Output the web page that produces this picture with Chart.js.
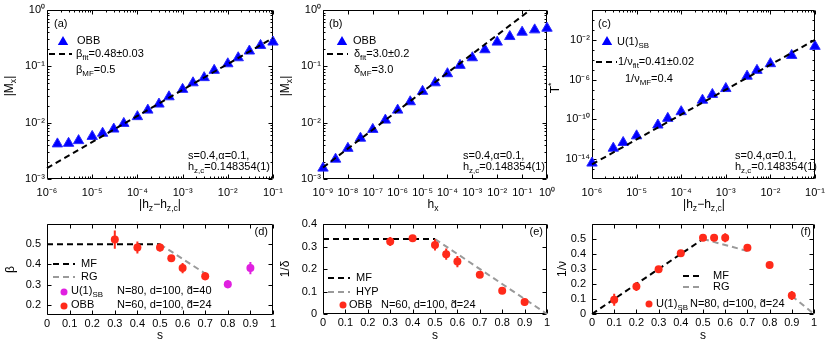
<!DOCTYPE html>
<html><head><meta charset="utf-8">
<script src="https://cdn.jsdelivr.net/npm/chart.js@4.4.1/dist/chart.umd.min.js"></script>
<style>
html,body{margin:0;padding:0;background:#fff;}
#wrap{position:relative;width:830px;height:350px;overflow:hidden;background:#fff;}
#wrap canvas{position:absolute;left:0;top:0;}
</style></head><body>
<div id="wrap">
<canvas id="ca" width="830" height="350"></canvas>
<canvas id="cb" width="830" height="350"></canvas>
<canvas id="cc" width="830" height="350"></canvas>
<canvas id="cd" width="830" height="350"></canvas>
<canvas id="ce" width="830" height="350"></canvas>
<canvas id="cf" width="830" height="350"></canvas>
</div>
<script>
// ---------------- DATA ----------------
// (a) |Mx| vs |hz-hz,c|
const aX = [1.7e-6,3e-6,5e-6,1e-5,1.7e-5,3e-5,5e-5,1e-4,1.7e-4,3e-4,5e-4,1e-3,1.7e-3,3e-3,5e-3,1e-2,1.7e-2,3e-2,5.3e-2,1e-1];
const aY = [4.2e-3,4.3e-3,4.8e-3,5.7e-3,6.5e-3,7.7e-3,9.7e-3,1.28e-2,1.67e-2,2.14e-2,2.88e-2,3.9e-2,5.1e-2,6.3e-2,8.5e-2,0.111,0.142,0.187,0.235,0.27];
const aFitX = [1e-6, 1e-1];
const aFitY = [1.56e-3, 0.32];
const aXTicks = [1e-6,1e-5,1e-4,1e-3,1e-2,1e-1];
const aXLabels = ['10⁻⁶','10⁻⁵','10⁻⁴','10⁻³','10⁻²','10⁻¹'];
const aYTicks = [1e-3,1e-2,1e-1,1];
const aYLabels = ['10⁻³','10⁻²','10⁻¹','10⁰'];

// (b) |Mx| vs hx
const bX = [1e-9,3.2e-9,1e-8,3.2e-8,1e-7,3.2e-7,1e-6,3.2e-6,1e-5,3.2e-5,1e-4,3.2e-4,1e-3,3.2e-3,1e-2,3.2e-2,1e-1,3.2e-1,1];
const bY = [1.56e-3,2.25e-3,3.5e-3,5.3e-3,7.6e-3,1.11e-2,1.67e-2,2.35e-2,3.6e-2,5.1e-2,7.4e-2,0.104,0.142,0.197,0.269,0.338,0.404,0.444,0.475];
const bFitX = [1e-9, 0.21];
const bFitY = [1.6e-3, 1];
const bXTicks = [1e-9,1e-8,1e-7,1e-6,1e-5,1e-4,1e-3,1e-2,1e-1,1];
const bXLabels = ['10⁻⁹','10⁻⁸','10⁻⁷','10⁻⁶','10⁻⁵','10⁻⁴','10⁻³','10⁻²','10⁻¹','10⁰'];
const bYTicks = [1e-3,1e-2,1e-1,1];
const bYLabels = ['10⁻³','10⁻²','10⁻¹','10⁰'];

// (c) T* vs |hz-hz,c|
const cX = [1e-6,3e-6,5e-6,1e-5,3e-5,5e-5,1e-4,3e-4,5e-4,1e-3,3e-3,5e-3,1e-2,3e-2,1e-1];
const cY = [4e-15,1.26e-13,4.7e-13,2.2e-12,2.7e-11,1.26e-10,5.9e-10,8.5e-9,3.2e-8,1.26e-7,2.2e-6,8.5e-6,4e-5,2.7e-4,2.2e-3];
const cFitX = [1e-6, 1e-1];
const cFitY = [3e-15, 1e-2];
const cXTicks = [1e-6,1e-5,1e-4,1e-3,1e-2,1e-1];
const cXLabels = ['10⁻⁶','10⁻⁵','10⁻⁴','10⁻³','10⁻²','10⁻¹'];
const cYTicks = [1e-14,1e-10,1e-6,1e-2];
const cYLabels = ['10⁻¹⁴','10⁻¹⁰','10⁻⁶','10⁻²'];

// (d) beta vs s
const dX = [0.3,0.4,0.5,0.55,0.6,0.7];
const dY = [0.523,0.484,0.484,0.431,0.382,0.342];
const dErr = [0.045,0.03,0.02,0.01,0.025,0.02];
const dUX = [0.8,0.9];
const dUY = [0.302,0.382];
const dUErr = [0.02,0.03];
const dMfX = [0,0.5];
const dMfY = [0.5,0.5];
const dRgX = [0.5,0.7];
const dRgY = [0.5,0.355];
const dYTicks = [0.2,0.3,0.4,0.5];
const dYLabels = ['0.2','0.3','0.4','0.5'];

// (e) 1/delta vs s
const eX = [0.3,0.4,0.5,0.55,0.6,0.7,0.8,0.9];
const eY = [0.322,0.337,0.307,0.266,0.233,0.174,0.103,0.053];
const eErr = [0.02,0.008,0.025,0.025,0.025,0.01,0.01,0.015];
const eMfX = [0,0.5];
const eMfY = [1/3,1/3];
const eHypX = [0.5,1];
const eHypY = [1/3,0];
const eYTicks = [0,0.1,0.2,0.3,0.4];
const eYLabels = ['0','0.1','0.2','0.3','0.4'];

// (f) 1/nu vs s
const fX = [0.1,0.2,0.3,0.4,0.5,0.55,0.6,0.7,0.8,0.9];
const fY = [0.095,0.184,0.299,0.405,0.509,0.509,0.509,0.442,0.327,0.124];
const fErr = [0.04,0.03,0.02,0.02,0.02,0.02,0.03,0.02,0.02,0.03];
const fMfX = [0,0.5];
const fMfY = [0,0.5];
const fRgX = [0.5,0.7,0.8,0.9,1];
const fRgY = [0.5,0.42,null,0.12,0];
const fYTicks = [0,0.1,0.2,0.3,0.4,0.5];
const fYLabels = ['0','0.1','0.2','0.3','0.4','0.5'];

const sTicks = [0,0.1,0.2,0.3,0.4,0.5,0.6,0.7,0.8,0.9,1];
const sLabels = ['0','0.1','0.2','0.3','0.4','0.5','0.6','0.7','0.8','0.9','1'];

// ---------------- STYLE ----------------
const FONT = '"Liberation Sans", Arial, Helvetica, sans-serif';
Chart.defaults.font.family = FONT;
Chart.defaults.color = '#000';
const BLUE = '#0000ff', RED = '#ff2a1a', MAG = '#e020e0', GRAY = '#9a9a9a';
const DASH = [6,4];

const pts = (xs, ys) => xs.map((x, i) => ({x: x, y: ys[i]}));
const errPts = (xs, ys, es) => xs.flatMap((x, i) => [{x: x, y: ys[i] - es[i]}, {x: x, y: ys[i] + es[i]}, {x: x, y: null}]);

function richText(ctx, str, x, y, size, align, rot, color) {
  const segs = []; let buf = ''; let i = 0;
  while (i < str.length) {
    const c = str[i];
    if ((c === '_' || c === '^') && str[i + 1] === '{') {
      if (buf) { segs.push({t: buf, m: 0}); buf = ''; }
      const j = str.indexOf('}', i);
      segs.push({t: str.slice(i + 2, j), m: c === '_' ? 1 : 2});
      i = j + 1;
    } else { buf += c; i++; }
  }
  if (buf) segs.push({t: buf, m: 0});
  const ss = size * 0.72;
  const F = s => s + 'px ' + FONT;
  let w = 0;
  for (const s of segs) { ctx.font = F(s.m ? ss : size); s.w = ctx.measureText(s.t).width; w += s.w; }
  ctx.save();
  ctx.translate(x, y);
  if (rot) ctx.rotate(rot);
  let cx = align === 'center' ? -w / 2 : align === 'right' ? -w : 0;
  ctx.fillStyle = color || '#000';
  ctx.textBaseline = 'middle'; ctx.textAlign = 'left';
  for (const s of segs) {
    ctx.font = F(s.m ? ss : size);
    const dy = s.m === 1 ? size * 0.33 : s.m === 2 ? -size * 0.38 : 0;
    ctx.fillText(s.t, cx, dy);
    cx += s.w;
  }
  ctx.restore();
}

function logMinors(min, max, decadeOnly) {
  const out = [];
  const d0 = Math.floor(Math.log10(min)), d1 = Math.ceil(Math.log10(max));
  for (let d = d0; d <= d1; d++) {
    if (decadeOnly) { const v = Math.pow(10, d); if (v > min && v < max) out.push(v); }
    else for (let k = 2; k <= 9; k++) { const v = k * Math.pow(10, d); if (v > min && v < max) out.push(v); }
  }
  return out;
}

const framePlugin = {
  id: 'frame',
  beforeDatasetsDraw(chart, args, o) {
    const {ctx, chartArea: a, scales: {x, y}} = chart;
    const L = Math.round(a.left) + 0.5, R = Math.round(a.right) - 0.5, T = Math.round(a.top) + 0.5, B = Math.round(a.bottom) - 0.5;
    ctx.save();
    ctx.strokeStyle = '#000'; ctx.lineWidth = 1; ctx.setLineDash([]);
    ctx.beginPath();
    ctx.rect(L, T, R - L, B - T);
    const xt = (v, len) => { const p = Math.round(x.getPixelForValue(v)) + 0.5; ctx.moveTo(p, B); ctx.lineTo(p, B - len); ctx.moveTo(p, T); ctx.lineTo(p, T + len); };
    const yt = (v, len) => { const p = Math.round(y.getPixelForValue(v)) + 0.5; ctx.moveTo(L, p); ctx.lineTo(L + len, p); ctx.moveTo(R, p); ctx.lineTo(R - len, p); };
    x.ticks.forEach(t => xt(t.value, 4));
    y.ticks.forEach(t => yt(t.value, 4));
    if (o.xMinor) logMinors(x.min, x.max, o.xMinor === 'decade').forEach(v => xt(v, 2));
    if (o.yMinor) logMinors(y.min, y.max, o.yMinor === 'decade').forEach(v => yt(v, 2));
    ctx.stroke();
    ctx.restore();
  },
  afterDraw(chart, args, o) {
    const ctx = chart.ctx;
    (o.items || []).forEach(it => {
      ctx.save();
      if (it.type === 'tri') {
        const r = 6;
        ctx.beginPath();
        ctx.moveTo(it.x, it.y - r);
        ctx.lineTo(it.x + r * Math.sin(2 * Math.PI / 3), it.y - r * Math.cos(2 * Math.PI / 3));
        ctx.lineTo(it.x + r * Math.sin(4 * Math.PI / 3), it.y - r * Math.cos(4 * Math.PI / 3));
        ctx.closePath();
        ctx.fillStyle = BLUE; ctx.fill();
      } else if (it.type === 'dot') {
        ctx.beginPath(); ctx.arc(it.x, it.y, 3.5, 0, 2 * Math.PI);
        ctx.fillStyle = it.color; ctx.fill();
      } else if (it.type === 'dash') {
        ctx.beginPath(); ctx.setLineDash(DASH); ctx.lineWidth = 2; ctx.strokeStyle = it.color;
        ctx.moveTo(it.x1, it.y); ctx.lineTo(it.x2, it.y); ctx.stroke();
      }
      ctx.restore();
    });
    (o.texts || []).forEach(t => richText(ctx, t.t, t.x, t.y, t.s || 11, t.a || 'left', t.r || 0, t.c));
  }
};

function build(id, p) {
  const H = p.H, W = p.W;
  return new Chart(document.getElementById(id), {
    type: 'scatter',
    data: {datasets: p.datasets},
    options: {
      responsive: false, animation: false, events: [], devicePixelRatio: 1,
      layout: {padding: {left: p.area.l - W, right: 830 - p.area.r, top: p.area.t, bottom: 350 - p.area.b - H}},
      plugins: {legend: {display: false}, tooltip: {enabled: false}, frame: p.frame},
      scales: {
        x: {
          type: p.xType, min: p.xMin, max: p.xMax, position: 'bottom',
          grid: {display: false, drawTicks: false}, border: {display: false},
          ticks: {autoSkip: false, maxRotation: 0, minRotation: 0, padding: p.xPad, font: {size: 11}, color: '#000',
                  callback: (v, i) => p.xLabels[i]},
          afterBuildTicks: s => { s.ticks = p.xTicks.map(v => ({value: v})); },
          afterFit: s => { s.height = H; s.paddingLeft = 0; s.paddingRight = 0; },
          title: p.xTitle ? {display: true, text: p.xTitle, font: {size: 12}, color: '#000', padding: {top: 0, bottom: p.xTitlePad}} : {display: false}
        },
        y: {
          type: p.yType, min: p.yMin, max: p.yMax, position: 'left',
          grid: {display: false, drawTicks: false}, border: {display: false},
          ticks: {autoSkip: false, padding: p.yPad, font: {size: 11}, color: '#000',
                  callback: (v, i) => p.yLabels[i]},
          afterBuildTicks: s => { s.ticks = p.yTicks.map(v => ({value: v})); },
          afterFit: s => { s.width = W; s.paddingTop = 0; s.paddingBottom = 0; },
          title: p.yTitle ? {display: true, text: p.yTitle, font: {size: 12}, color: '#000', padding: {top: p.yTitlePad, bottom: 0}} : {display: false}
        }
      }
    },
    plugins: [framePlugin]
  });
}

const fitLine = (xs, ys) => ({data: pts(xs, ys), showLine: true, borderColor: '#000', borderWidth: 2, borderDash: DASH, pointRadius: 0, fill: false, clip: false});
const triSet = (xs, ys) => ({data: pts(xs, ys), showLine: false, pointStyle: 'triangle', pointRadius: 6, backgroundColor: BLUE, borderColor: '#2a2aff', borderWidth: 1, clip: false});
const dotSet = (xs, ys, col) => ({data: pts(xs, ys), showLine: false, pointStyle: 'circle', pointRadius: 4, backgroundColor: col, borderColor: col, borderWidth: 0, clip: false});
const errSet = (xs, ys, es, col) => ({data: errPts(xs, ys, es), showLine: true, spanGaps: false, borderColor: col, borderWidth: 2, pointRadius: 0, fill: false, clip: false});
const dashSet = (xs, ys, col) => ({data: pts(xs, ys), showLine: true, spanGaps: false, borderColor: col, borderWidth: 2, borderDash: DASH, pointRadius: 0, fill: false, clip: false});

const hzTitle = '|h_{z}−h_{z,c}|';

// (a)
build('ca', {
  area: {l: 47, r: 273, t: 10, b: 179}, W: 40, H: 36, xPad: 7, yPad: 2,
  xType: 'logarithmic', xMin: 1e-6, xMax: 1e-1, xTicks: aXTicks, xLabels: aXLabels,
  yType: 'logarithmic', yMin: 1e-3, yMax: 1, yTicks: aYTicks, yLabels: aYLabels,
  datasets: [fitLine(aFitX, aFitY), triSet(aX, aY)],
  frame: {xMinor: true, yMinor: true,
    items: [{type: 'tri', x: 63, y: 42}, {type: 'dash', x1: 49, x2: 72, y: 54, color: '#000'}],
    texts: [
      {t: '(a)', x: 54, y: 24},
      {t: 'OBB', x: 77, y: 41},
      {t: 'β_{fit}=0.48±0.03', x: 76, y: 54},
      {t: 'β_{MF}=0.5', x: 76, y: 70},
      {t: 's=0.4,α=0.1,', x: 188, y: 156},
      {t: 'h_{z,c}=0.148354(1)', x: 188, y: 167},
      {t: hzTitle, x: 160, y: 205, s: 12, a: 'center'},
      {t: '|M_{x}|', x: 10, y: 86, s: 12, a: 'center', r: -Math.PI / 2}
    ]}
});

// (b)
build('cb', {
  area: {l: 323, r: 547, t: 10, b: 179}, W: 40, H: 36, xPad: 7, yPad: 2,
  xType: 'logarithmic', xMin: 1e-9, xMax: 1, xTicks: bXTicks, xLabels: bXLabels,
  yType: 'logarithmic', yMin: 1e-3, yMax: 1, yTicks: bYTicks, yLabels: bYLabels,
  datasets: [fitLine(bFitX, bFitY), triSet(bX, bY)],
  frame: {xMinor: false, yMinor: true,
    items: [{type: 'tri', x: 342, y: 42}, {type: 'dash', x1: 327, x2: 348, y: 54, color: '#000'}],
    texts: [
      {t: '(b)', x: 329, y: 24},
      {t: 'OBB', x: 353, y: 41},
      {t: 'δ_{fit}=3.0±0.2', x: 354, y: 54},
      {t: 'δ_{MF}=3.0', x: 354, y: 70},
      {t: 's=0.4,α=0.1,', x: 463, y: 156},
      {t: 'h_{z,c}=0.148354(1)', x: 463, y: 167},
      {t: 'h_{x}', x: 433, y: 205, s: 12, a: 'center'},
      {t: '|M_{x}|', x: 286, y: 86, s: 12, a: 'center', r: -Math.PI / 2}
    ]}
});

// (c)
build('cc', {
  area: {l: 592, r: 815, t: 10, b: 179}, W: 40, H: 36, xPad: 7, yPad: 2,
  xType: 'logarithmic', xMin: 1e-6, xMax: 1e-1, xTicks: cXTicks, xLabels: cXLabels,
  yType: 'logarithmic', yMin: 1e-16, yMax: 10, yTicks: cYTicks, yLabels: cYLabels,
  datasets: [fitLine(cFitX, cFitY), triSet(cX, cY)],
  frame: {xMinor: true, yMinor: 'decade',
    items: [{type: 'tri', x: 607, y: 42}, {type: 'dash', x1: 596, x2: 617, y: 62, color: '#000'}],
    texts: [
      {t: '(c)', x: 598, y: 24},
      {t: 'U(1)_{SB}', x: 617, y: 42},
      {t: '1/ν_{fit}=0.41±0.02', x: 618, y: 62},
      {t: '1/ν_{MF}=0.4', x: 625, y: 79},
      {t: 's=0.4,α=0.1,', x: 735, y: 156},
      {t: 'h_{z,c}=0.148354(1)', x: 735, y: 167},
      {t: hzTitle, x: 704, y: 205, s: 12, a: 'center'},
      {t: 'T^{*}', x: 556, y: 88, s: 12, a: 'center', r: -Math.PI / 2}
    ]}
});

// (d)
build('cd', {
  area: {l: 47, r: 273, t: 224, b: 315}, W: 47, H: 35, xPad: 2, yPad: 6,
  xType: 'linear', xMin: 0, xMax: 1, xTicks: sTicks, xLabels: sLabels,
  yType: 'linear', yMin: 0.15, yMax: 0.6, yTicks: dYTicks, yLabels: dYLabels,
  xTitle: 's', xTitlePad: 6.8, yTitle: 'β', yTitlePad: 3.3,
  datasets: [dotSet(dX, dY, RED), errSet(dX, dY, dErr, RED), dotSet(dUX, dUY, MAG), errSet(dUX, dUY, dUErr, MAG),
             dashSet(dMfX, dMfY, '#000'), dashSet(dRgX, dRgY, GRAY)],
  frame: {
    items: [{type: 'dash', x1: 53, x2: 75, y: 264, color: '#000'}, {type: 'dash', x1: 53, x2: 75, y: 277, color: GRAY},
            {type: 'dot', x: 64, y: 292, color: MAG}, {type: 'dot', x: 64, y: 306, color: RED}],
    texts: [
      {t: '(d)', x: 268, y: 232, a: 'right'},
      {t: 'MF', x: 81, y: 264},
      {t: 'RG', x: 81, y: 277},
      {t: 'U(1)_{SB}', x: 71, y: 291},
      {t: 'N=80, d=100, d\u0303=40', x: 117, y: 291},
      {t: 'OBB', x: 71, y: 305},
      {t: 'N=60, d=100, d\u0303=24', x: 117, y: 305}
    ]}
});

// (e)
build('ce', {
  area: {l: 323, r: 547, t: 224, b: 314}, W: 45, H: 36, xPad: 2, yPad: 6,
  xType: 'linear', xMin: 0, xMax: 1, xTicks: sTicks, xLabels: sLabels,
  yType: 'linear', yMin: 0, yMax: 0.4, yTicks: eYTicks, yLabels: eYLabels,
  xTitle: 's', xTitlePad: 6.8, yTitle: '1/δ', yTitlePad: 0,
  datasets: [dotSet(eX, eY, RED), errSet(eX, eY, eErr, RED), dashSet(eMfX, eMfY, '#000'), dashSet(eHypX, eHypY, GRAY)],
  frame: {
    items: [{type: 'dash', x1: 328, x2: 350, y: 278, color: '#000'}, {type: 'dash', x1: 328, x2: 350, y: 292, color: GRAY},
            {type: 'dot', x: 343, y: 305, color: RED}],
    texts: [
      {t: '(e)', x: 543, y: 232, a: 'right'},
      {t: 'MF', x: 356, y: 278},
      {t: 'HYP', x: 356, y: 292},
      {t: 'OBB', x: 349, y: 305},
      {t: 'N=60, d=100, d\u0303=24', x: 381, y: 305}
    ]}
});

// (f)
build('cf', {
  area: {l: 592, r: 814, t: 224, b: 314}, W: 45, H: 36, xPad: 2, yPad: 6,
  xType: 'linear', xMin: 0, xMax: 1, xTicks: sTicks, xLabels: sLabels,
  yType: 'linear', yMin: 0, yMax: 0.6, yTicks: fYTicks, yLabels: fYLabels,
  xTitle: 's', xTitlePad: 6.8, yTitle: '1/ν', yTitlePad: 8.8,
  datasets: [dotSet(fX, fY, RED), errSet(fX, fY, fErr, RED), dashSet(fMfX, fMfY, '#000'), dashSet(fRgX, fRgY, GRAY)],
  frame: {
    items: [{type: 'dash', x1: 683, x2: 703, y: 276, color: '#000'}, {type: 'dash', x1: 683, x2: 703, y: 287, color: GRAY},
            {type: 'dot', x: 649, y: 304, color: RED}],
    texts: [
      {t: '(f)', x: 811, y: 232, a: 'right'},
      {t: 'MF', x: 713, y: 276},
      {t: 'RG', x: 713, y: 287},
      {t: 'U(1)_{SB}', x: 656, y: 304},
      {t: 'N=80, d=100, d\u0303=24', x: 690, y: 304}
    ]}
});
</script>
</body></html>
